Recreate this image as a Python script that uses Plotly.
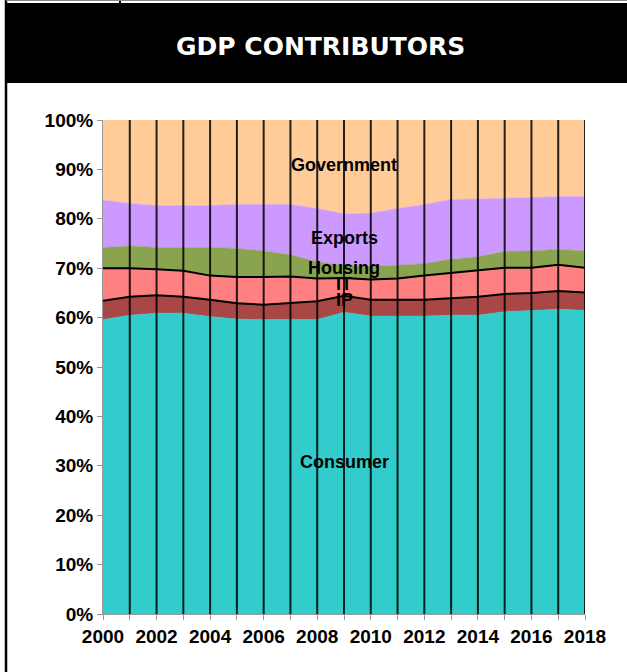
import plotly.graph_objects as go

years = list(range(2000, 2019))
consumer = [59.6, 60.5, 60.9, 60.9, 60.2, 59.7, 59.6, 59.6, 59.6, 61.1, 60.3, 60.3, 60.3, 60.5, 60.5, 61.2, 61.5, 61.7, 61.5]
ip = [3.8, 3.7, 3.6, 3.3, 3.4, 3.2, 3.0, 3.4, 3.7, 3.3, 3.3, 3.3, 3.3, 3.4, 3.7, 3.6, 3.5, 3.7, 3.6]
it = [6.6, 5.8, 5.3, 5.3, 4.9, 5.3, 5.6, 5.3, 4.6, 3.6, 4.1, 4.3, 4.9, 5.1, 5.3, 5.3, 5.1, 5.3, 5.0]
housing = [4.2, 4.5, 4.4, 4.7, 5.7, 5.8, 5.3, 4.4, 3.4, 2.6, 2.7, 2.7, 2.4, 2.8, 2.8, 3.3, 3.4, 3.1, 3.4]
exports = [9.6, 8.6, 8.5, 8.5, 8.5, 8.9, 9.4, 10.2, 10.8, 10.4, 10.7, 11.5, 12.0, 12.1, 11.7, 10.7, 10.8, 10.7, 11.0]
government = [16.2, 16.9, 17.3, 17.3, 17.3, 17.1, 17.1, 17.1, 17.9, 19.0, 18.9, 17.9, 17.1, 16.1, 16.0, 15.9, 15.7, 15.5, 15.5]

series_names = ["Consumer", "IP", "IT", "Housing", "Exports", "Government"]
series_vals = [consumer, ip, it, housing, exports, government]
fill_colors = ["#33CCCC", "#A94646", "#FF8080", "#8AA34F", "#CC99FF", "#FFCC99"]
line_w = [0, 2, 2, 0, 0, 0]

x_tick_labels = [str(y) if y % 2 == 0 else "" for y in years]
y_ticks = list(range(0, 101, 10))
y_tick_labels = ["%d%%" % v for v in y_ticks]

# label placement (year, percent)
label_year = 2009
label_pos = {"Government": 90.9, "Exports": 76.1, "Housing": 70.0, "IT": 66.8, "IP": 63.6, "Consumer": 30.8}

FONT = "Liberation Sans, Arial, sans-serif"
TITLE_FONT = "DejaVu Sans, sans-serif"

fig = go.Figure()
for name, vals, col, lw in zip(series_names, series_vals, fill_colors, line_w):
    fig.add_trace(go.Scatter(
        x=years, y=vals, name=name, mode="lines",
        stackgroup="one", groupnorm="percent",
        fillcolor=col,
        line=dict(color="black" if lw else col, width=lw if lw else 0.5),
        showlegend=False, hoverinfo="skip",
    ))

W, H = 627, 672
L, R, T, B = 103, 42, 120, 58
pw, ph = W - L - R, H - T - B

def px(xp):
    return (xp - L) / pw

def py(yp):
    return (H - B - yp) / ph

shapes = []
# vertical year lines
for yr in years[1:]:
    shapes.append(dict(type="line", xref="x", yref="y", x0=yr, x1=yr, y0=0, y1=100,
                       line=dict(color="rgba(0,0,0,0.85)", width=2), layer="above"))
# header
shapes.append(dict(type="rect", xref="paper", yref="paper", x0=px(6), x1=px(640), y0=py(83), y1=py(3),
                   fillcolor="black", line=dict(width=0), layer="above"))
# left border
shapes.append(dict(type="line", xref="paper", yref="paper", x0=px(6), x1=px(6), y0=py(680), y1=py(-5),
                   line=dict(color="black", width=2.5), layer="above"))
# small top mark
shapes.append(dict(type="line", xref="paper", yref="paper", x0=px(120), x1=px(120), y0=py(3), y1=py(-5),
                   line=dict(color="black", width=2), layer="above"))
shapes.append(dict(type="line", xref="paper", yref="paper", x0=px(6), x1=px(640), y0=py(0.5), y1=py(0.5),
                   line=dict(color="#888888", width=1), layer="above"))

annotations = [dict(xref="paper", yref="paper", x=px(320), y=py(46), text="<b>GDP CONTRIBUTORS</b>",
                    showarrow=False, font=dict(family=TITLE_FONT, size=25, color="white"),
                    xanchor="center", yanchor="middle")]
for name, yv in label_pos.items():
    annotations.append(dict(x=label_year, y=yv, xref="x", yref="y", text="<b>%s</b>" % name,
                            showarrow=False, font=dict(family=FONT, size=18, color="black"),
                            xanchor="center", yanchor="middle"))

fig.update_layout(
    width=W, height=H,
    margin=dict(l=L, r=R, t=T, b=B),
    paper_bgcolor="white", plot_bgcolor="white",
    shapes=shapes, annotations=annotations,
    xaxis=dict(range=[years[0], years[-1]], tickmode="array", tickvals=years, ticktext=x_tick_labels,
               ticks="outside", ticklen=5, tickcolor="#999999", showgrid=False, zeroline=False,
               showline=True, linecolor="#999999", linewidth=1,
               tickfont=dict(family=FONT, size=19, color="black", weight="bold")),
    yaxis=dict(range=[0, 100], tickmode="array", tickvals=y_ticks, ticktext=y_tick_labels,
               ticks="outside", ticklen=5, tickcolor="#999999", showgrid=False, zeroline=False,
               showline=True, linecolor="#999999", linewidth=1,
               tickfont=dict(family=FONT, size=19, color="black", weight="bold")),
)

fig.write_html("out.html")
